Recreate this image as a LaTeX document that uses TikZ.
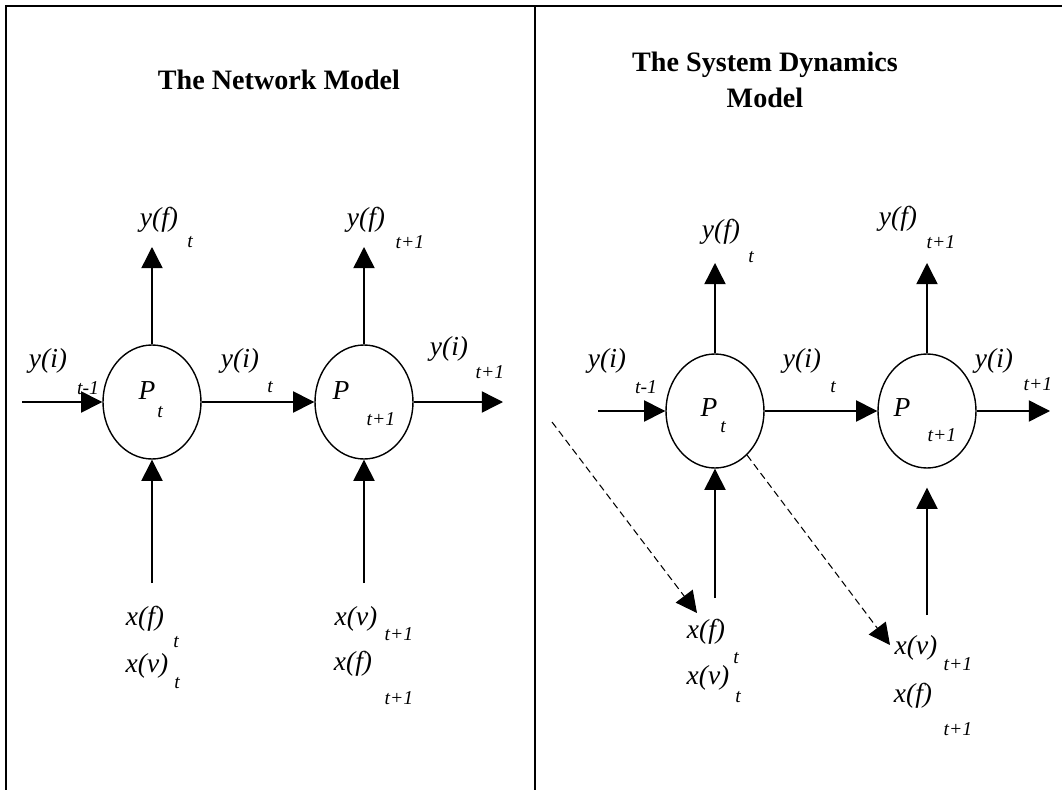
\documentclass[tikz,border=0pt]{standalone}
\usepackage{fontspec}
\setmainfont{Liberation Serif}
\usepackage{tikz}
\usetikzlibrary{shapes.geometric,arrows.meta}
\tikzstyle{head}=[font=\fontsize{20}{26}\selectfont\bfseries, align=center, inner sep=0pt]
\tikzstyle{lab}=[font=\fontsize{19.5}{22}\selectfont\itshape, inner sep=0pt]
\tikzstyle{idx}=[font=\fontsize{14}{16}\selectfont\itshape, inner sep=0pt]
\tikzstyle{proc}=[ellipse, draw=black, line width=1pt, minimum width=2.45cm, minimum height=2.85cm, inner sep=0pt]
\tikzstyle{flow}=[draw=black, line width=1pt, -{Triangle[length=0.53cm,width=0.53cm]}]
\tikzstyle{link}=[draw=black, line width=0.75pt, dash pattern=on 5pt off 3pt, -{Triangle[length=0.53cm,width=0.53cm]}]

\begin{document}
\begin{tikzpicture}
\useasboundingbox (0,0) rectangle (26.55,-19.75);
% frame
\draw[line width=1.3pt] (0.15,-19.75) -- (0.15,-0.15) -- (26.55,-0.15);
\draw[line width=1.3pt] (13.375,-0.15) -- (13.375,-19.75);
\node [head] (titleL) at (6.975,-2.0) {The Network Model};
\node [head] (titleR) at (19.125,-2.0) {The System Dynamics\\Model};

% the network model
\node [proc] (PtL) at (3.8,-10.05) {};
\node [proc] (PnL) at (9.1,-10.05) {};
\coordinate (inL) at (0.55,-10.05);
\coordinate (outL) at (12.575,-10.05);
\coordinate (upL1) at (3.8,-6.175);
\coordinate (upL2) at (9.1,-6.175);
\coordinate (xL1) at (3.8,-14.575);
\coordinate (xL2) at (9.1,-14.575);
\draw[flow] (inL) -- (PtL);
\draw[flow] (PtL) -- (PnL);
\draw[flow] (PnL) -- (outL);
\draw[flow] (PtL) -- (upL1);
\draw[flow] (PnL) -- (upL2);
\draw[flow] (xL1) -- (PtL);
\draw[flow] (xL2) -- (PnL);
\node [lab] (pL1) at (3.675,-9.775) {P};
\node [idx] (pL1s) at (4.0,-10.3) {t};
\node [lab] (pL2) at (8.525,-9.775) {P};
\node [idx] (pL2s) at (9.525,-10.475) {t+1};
\node [lab] (yfL1) at (3.975,-5.5) {y(f)};
\node [idx] (yfL1s) at (4.75,-6.05) {t};
\node [lab] (yfL2) at (9.15,-5.5) {y(f)};
\node [idx] (yfL2s) at (10.25,-6.05) {t+1};
\node [lab] (yiL1) at (1.2,-9.025) {y(i)};
\node [idx] (yiL1s) at (2.2,-9.7) {t-1};
\node [lab] (yiL2) at (6.0,-9.025) {y(i)};
\node [idx] (yiL2s) at (6.75,-9.675) {t};
\node [lab] (yiL3) at (11.225,-8.725) {y(i)};
\node [idx] (yiL3s) at (12.25,-9.3) {t+1};
\node [lab] (xfL1) at (3.625,-15.475) {x(f)};
\node [idx] (xfL1s) at (4.4,-16.05) {t};
\node [lab] (xvL1) at (3.675,-16.65) {x(v)};
\node [idx] (xvL1s) at (4.425,-17.075) {t};
\node [lab] (xvL2) at (8.9,-15.475) {x(v)};
\node [idx] (xvL2s) at (9.975,-15.85) {t+1};
\node [lab] (xfL2) at (8.825,-16.6) {x(f)};
\node [idx] (xfL2s) at (9.975,-17.45) {t+1};

% the system dynamics model
\node [proc] (PtR) at (17.875,-10.275) {};
\node [proc] (PnR) at (23.175,-10.275) {};
\coordinate (inR) at (14.95,-10.275);
\coordinate (outR) at (26.25,-10.275);
\coordinate (upR1) at (17.875,-6.575);
\coordinate (upR2) at (23.175,-6.575);
\coordinate (xR1) at (17.875,-14.95);
\coordinate (xR2) at (23.175,-15.375);
\coordinate (dA) at (13.8,-10.55);
\coordinate (dB) at (17.425,-15.325);
\coordinate (dC) at (22.25,-16.125);
\draw[flow] (inR) -- (PtR);
\draw[flow] (PtR) -- (PnR);
\draw[flow] (PnR) -- (outR);
\draw[flow] (PtR) -- (upR1);
\draw[flow] (PnR) -- (upR2);
\draw[flow] (xR1) -- (PtR);
\draw[flow, shorten >=0.475cm] (xR2) -- (PnR);
\draw[link] (dA) -- (dB);
\draw[link] (PtR.-54) -- (dC);
\node [lab] (pR1) at (17.725,-10.2) {P};
\node [idx] (pR1s) at (18.075,-10.675) {t};
\node [lab] (pR2) at (22.55,-10.2) {P};
\node [idx] (pR2s) at (23.55,-10.875) {t+1};
\node [lab] (yfR1) at (18.025,-5.8) {y(f)};
\node [idx] (yfR1s) at (18.775,-6.425) {t};
\node [lab] (yfR2) at (22.45,-5.475) {y(f)};
\node [idx] (yfR2s) at (23.525,-6.05) {t+1};
\node [lab] (yiR1) at (15.175,-9.025) {y(i)};
\node [idx] (yiR1s) at (16.15,-9.675) {t-1};
\node [lab] (yiR2) at (20.05,-9.025) {y(i)};
\node [idx] (yiR2s) at (20.825,-9.675) {t};
\node [lab] (yiR3) at (24.85,-9.025) {y(i)};
\node [idx] (yiR3s) at (25.95,-9.6) {t+1};
\node [lab] (xfR1) at (17.65,-15.8) {x(f)};
\node [idx] (xfR1s) at (18.4,-16.45) {t};
\node [lab] (xvR1) at (17.7,-16.95) {x(v)};
\node [idx] (xvR1s) at (18.45,-17.425) {t};
\node [lab] (xvR2) at (22.9,-16.2) {x(v)};
\node [idx] (xvR2s) at (23.95,-16.6) {t+1};
\node [lab] (xfR2) at (22.825,-17.4) {x(f)};
\node [idx] (xfR2s) at (23.95,-18.225) {t+1};
\end{tikzpicture}
\end{document}
